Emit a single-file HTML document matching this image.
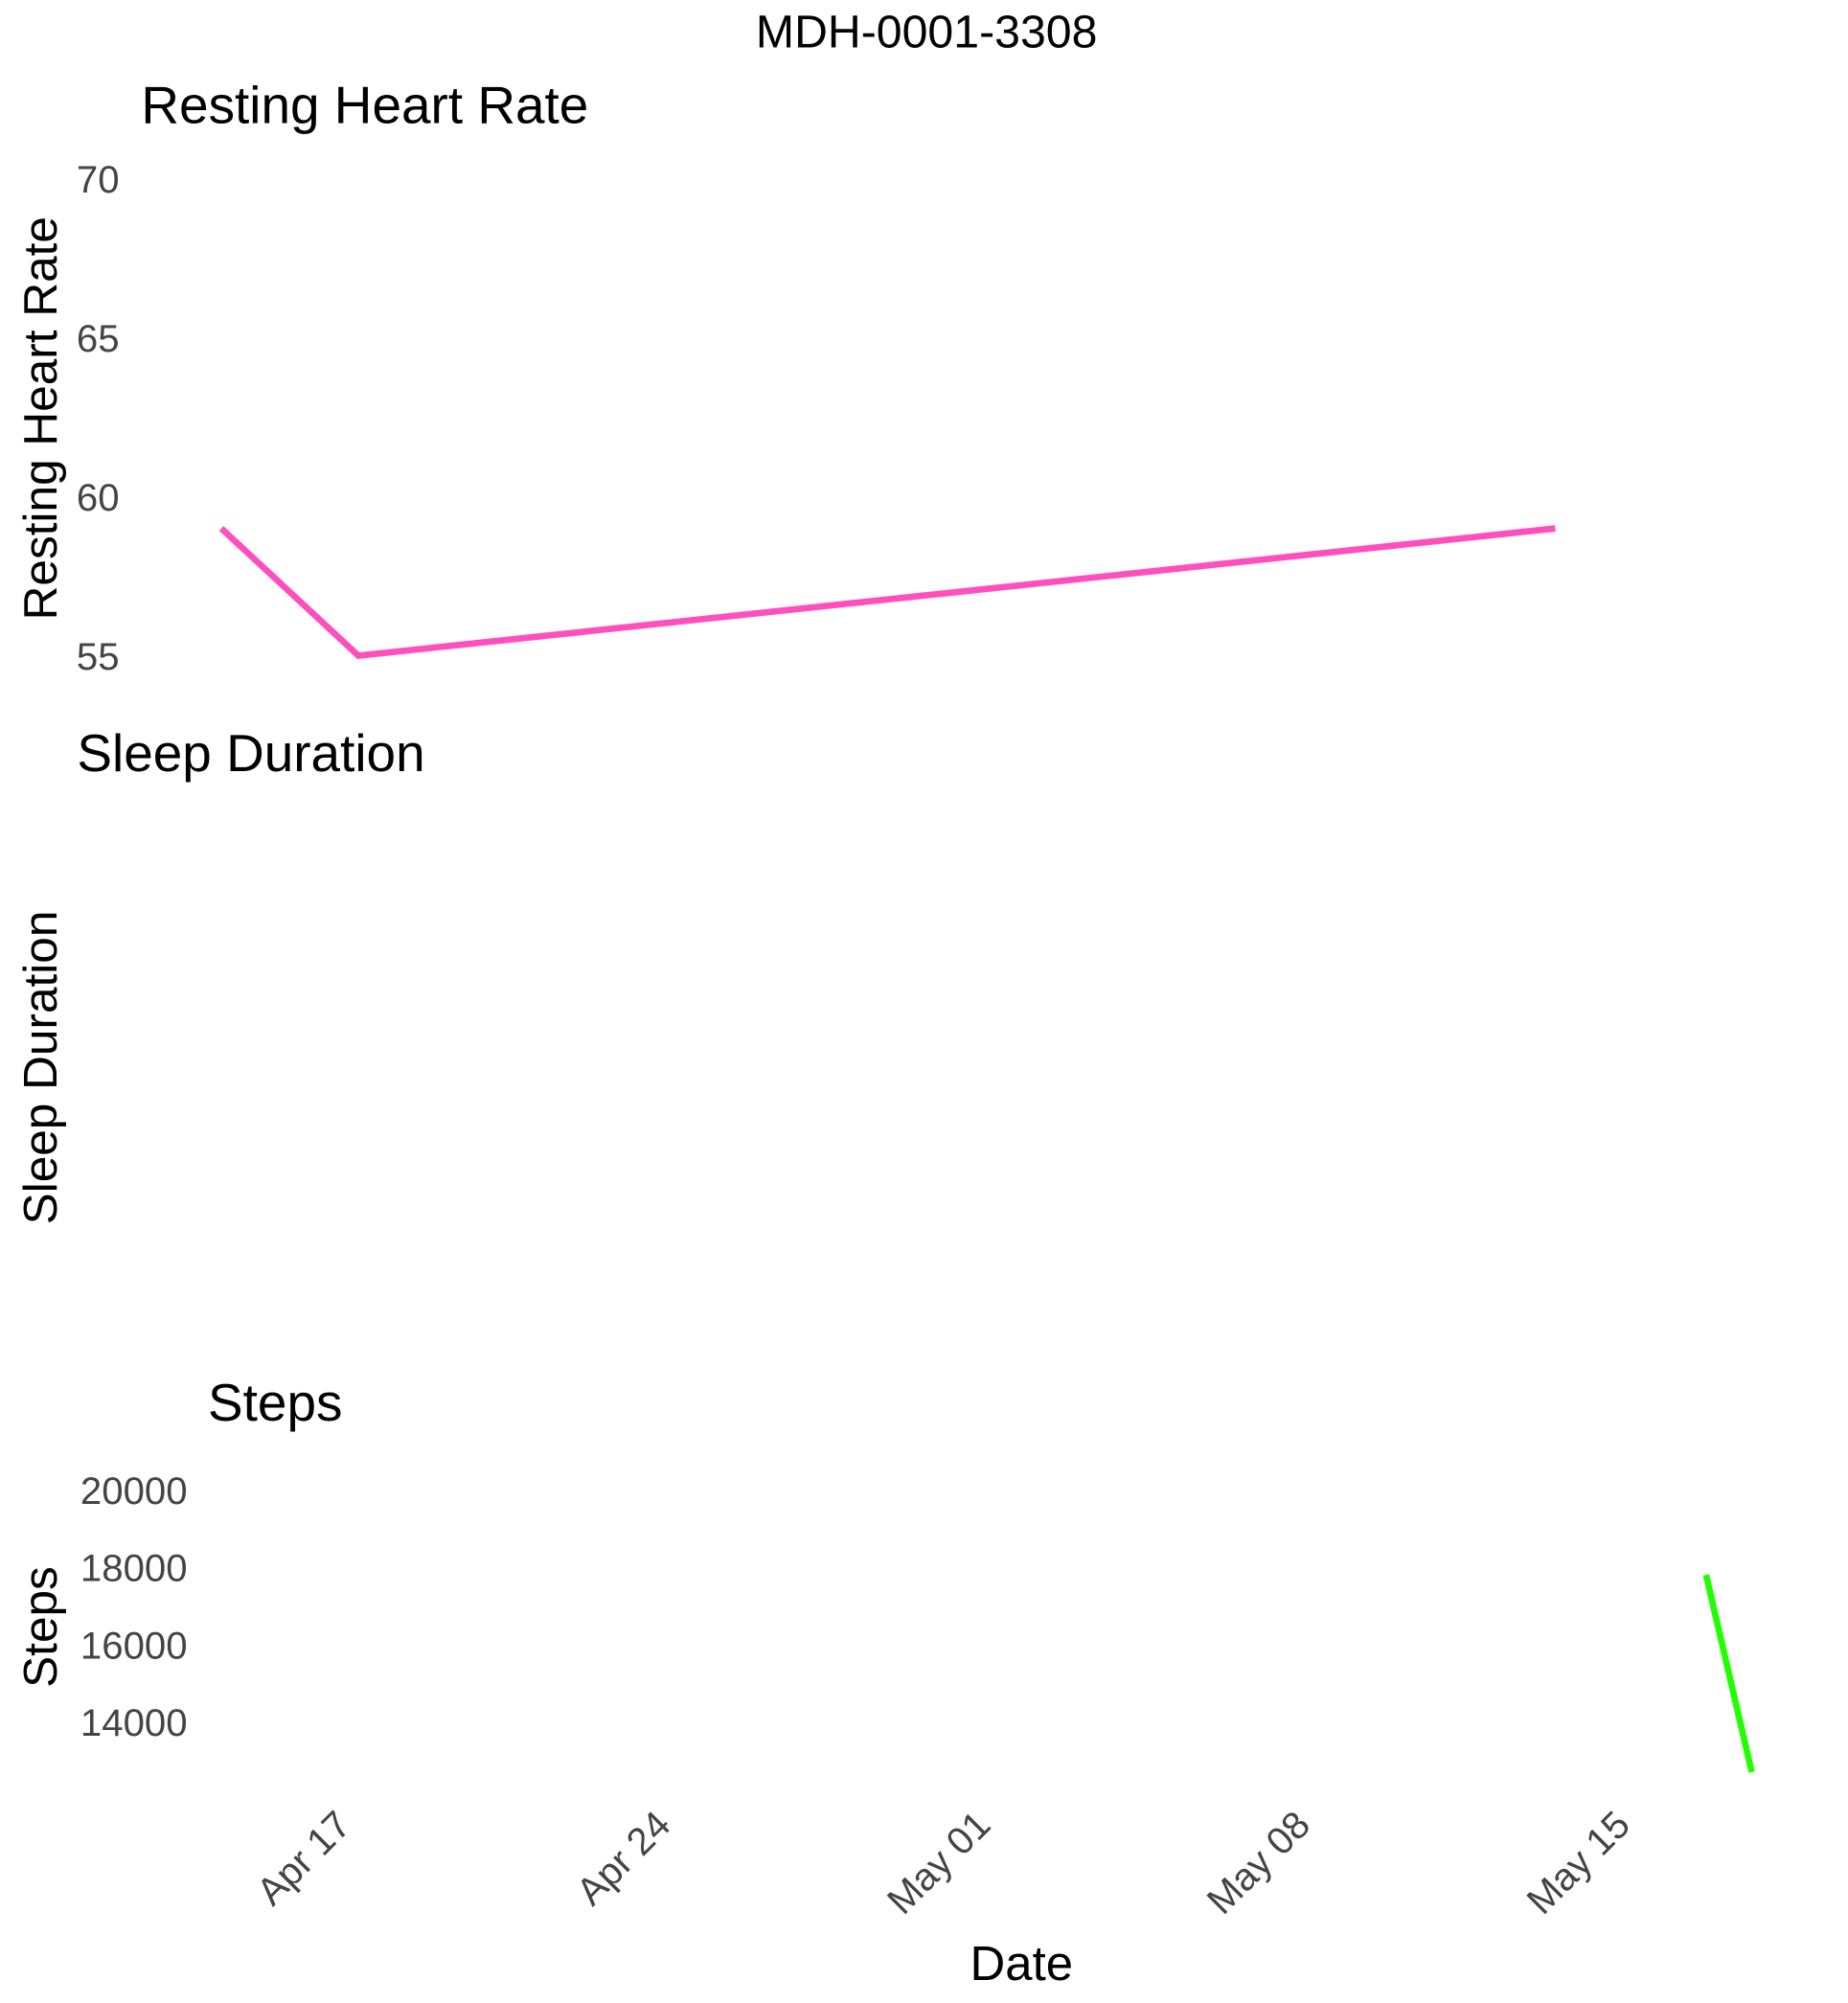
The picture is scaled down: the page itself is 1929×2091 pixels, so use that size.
<!DOCTYPE html>
<html><head><meta charset="utf-8"><style>
html,body{margin:0;padding:0;background:#fff;}
svg{display:block;font-family:"Liberation Sans",Arial,sans-serif;}
</style></head><body>
<svg width="1929" height="2091" viewBox="0 0 1440 1561" xmlns="http://www.w3.org/2000/svg">
<text x="722" y="37" font-size="36" text-anchor="middle" fill="#000">MDH-0001-3308</text>
<text x="110" y="96" font-size="41" fill="#000">Resting Heart Rate</text>
<text transform="translate(44,326) rotate(-90)" font-size="37" text-anchor="middle" fill="#000">Resting Heart Rate</text>
<g id="hrTicks"></g>
<path id="hrLine" fill="none" stroke="#ff4fbf" stroke-width="5"/>
<text x="60" y="601" font-size="41" fill="#000">Sleep Duration</text>
<text transform="translate(44,832) rotate(-90)" font-size="37" text-anchor="middle" fill="#000">Sleep Duration</text>
<text x="162" y="1107" font-size="41" fill="#000">Steps</text>
<text transform="translate(44,1268) rotate(-90)" font-size="37" text-anchor="middle" fill="#000">Steps</text>
<g id="stepTicks"></g>
<path id="stepLine" fill="none" stroke="#22ff00" stroke-width="5"/>
<g id="xTicks"></g>
<text x="796" y="1543" font-size="38" text-anchor="middle" fill="#000">Date</text>
</svg>
<script>
// days relative to Apr 17
const hrDays=[-2.6,0.4,26.6];
const hrValues=[59,55,59];
const hrTickValues=[55,60,65,70];
const stepDays=[29.9,30.9];
const stepValues=[17800,12700];
const stepTickValues=[14000,16000,18000,20000];
const xTickDays=[0,7,14,21,28];
const xTickLabels=["Apr 17","Apr 24","May 01","May 08","May 15"];
const NS="http://www.w3.org/2000/svg";
const xs=d=>265+35.6*d;
const hrY=v=>511-(v-55)*24.8;
const stY=v=>1161+(20000-v)*0.03015;
function txt(parent,x,y,s,attrs){const t=document.createElementNS(NS,'text');t.setAttribute('x',x);t.setAttribute('y',y);for(const k in attrs)t.setAttribute(k,attrs[k]);t.textContent=s;parent.appendChild(t);return t;}
const hg=document.getElementById('hrTicks');
hrTickValues.forEach(v=>{const t=txt(hg,93,hrY(v)+11,v,{'font-size':30,'text-anchor':'end',fill:'#444'});

});
const sg=document.getElementById('stepTicks');
stepTickValues.forEach(v=>{const t=txt(sg,146,stY(v)+11,v,{'font-size':30,'text-anchor':'end',fill:'#444'});

});
document.getElementById('hrLine').setAttribute('d',hrDays.map((d,i)=>(i?'L':'M')+xs(d)+' '+hrY(hrValues[i])).join(' '));
document.getElementById('stepLine').setAttribute('d',stepDays.map((d,i)=>(i?'L':'M')+xs(d)+' '+stY(stepValues[i])).join(' '));
const xg=document.getElementById('xTicks');
xTickDays.forEach((d,i)=>{const t=txt(xg,0,0,xTickLabels[i],{'font-size':30,'text-anchor':'end',fill:'#444',transform:`translate(${xs(d)+10},1424) rotate(-45)`});

});
</script>
</body></html>
